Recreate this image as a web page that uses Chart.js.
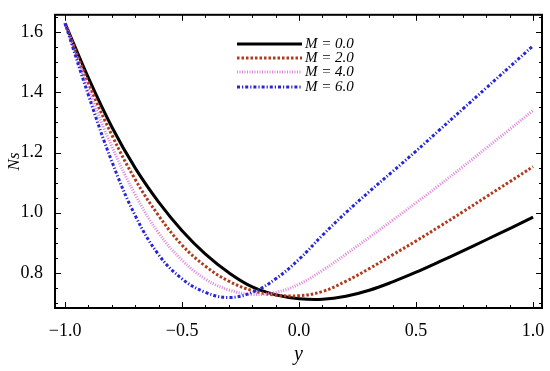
<!DOCTYPE html>
<html>
<head>
<meta charset="utf-8">
<script src="https://cdn.jsdelivr.net/npm/chart.js@4/dist/chart.umd.min.js"></script>
<style>
  html, body { margin: 0; padding: 0; background: #fff; }
  #wrap { width: 550px; height: 371px; }
</style>
</head>
<body>
<div id="wrap"><canvas id="nsChart" width="550" height="371"></canvas></div>
<script>
// data
const xValues = [-1.0, -0.9, -0.8, -0.7, -0.6, -0.5, -0.4, -0.3, -0.2, -0.1, 0.0,
                 0.1, 0.2, 0.3, 0.4, 0.5, 0.6, 0.7, 0.8, 0.9, 1.0];
const nsM0 = [1.63, 1.448, 1.285, 1.148, 1.035, 0.94, 0.862, 0.80, 0.753, 0.727, 0.714,
              0.712, 0.722, 0.742, 0.77, 0.802, 0.837, 0.873, 0.91, 0.947, 0.985];
const nsM2 = [1.63, 1.43, 1.258, 1.11, 0.99, 0.892, 0.822, 0.772, 0.741, 0.726, 0.724,
              0.738, 0.772, 0.814, 0.86, 0.906, 0.954, 1.003, 1.053, 1.103, 1.153];
const nsM4 = [1.63, 1.41, 1.22, 1.06, 0.932, 0.842, 0.779, 0.743, 0.728, 0.735, 0.762,
              0.808, 0.862, 0.918, 0.975, 1.033, 1.092, 1.153, 1.215, 1.277, 1.34];
const nsM6 = [1.63, 1.39, 1.17, 0.99, 0.86, 0.78, 0.735, 0.718, 0.735, 0.78, 0.845,
              0.925, 1.0, 1.07, 1.137, 1.205, 1.275, 1.345, 1.415, 1.485, 1.555];
const seriesLabels = ['M = 0.0', 'M = 2.0', 'M = 4.0', 'M = 6.0'];

const xTicks = [-1.0, -0.5, 0.0, 0.5, 1.0];
const yTicks = [0.8, 1.0, 1.2, 1.4, 1.6];
const xMinor = [-0.9, -0.8, -0.7, -0.6, -0.4, -0.3, -0.2, -0.1, 0.1, 0.2, 0.3, 0.4, 0.6, 0.7, 0.8, 0.9];
const yMinor = [0.7, 0.75, 0.85, 0.9, 0.95, 1.05, 1.1, 1.15, 1.25, 1.3, 1.35, 1.45, 1.5, 1.55, 1.65];

const serif = '"Liberation Serif", "DejaVu Serif", serif';

function pts(ys) {
    return xValues.map((x, i) => ({ x: x, y: ys[i] }));
}

function fmt(v) {
    return v.toFixed(1).replace('-', '\u2212');
}

// frame, inward ticks and the legend box inside the plot
const framePlugin = {
    id: 'frame',
    afterDatasetsDraw(chart) {
        const ctx = chart.ctx;
        const a = chart.chartArea;
        const sx = chart.scales.x, sy = chart.scales.y;
        ctx.save();
        ctx.strokeStyle = '#000';
        ctx.lineWidth = 2;
        ctx.strokeRect(a.left, a.top, a.right - a.left, a.bottom - a.top);

        ctx.lineWidth = 1;
        ctx.beginPath();
        const tick = (vals, len) => {
            vals.forEach(v => {
                const px = Math.round(sx.getPixelForValue(v)) + 0.5;
                ctx.moveTo(px, a.bottom); ctx.lineTo(px, a.bottom - len);
                ctx.moveTo(px, a.top); ctx.lineTo(px, a.top + len);
            });
        };
        const tickY = (vals, len) => {
            vals.forEach(v => {
                const py = Math.round(sy.getPixelForValue(v)) + 0.5;
                if (py < a.top || py > a.bottom) return;
                ctx.moveTo(a.left, py); ctx.lineTo(a.left + len, py);
                ctx.moveTo(a.right, py); ctx.lineTo(a.right - len, py);
            });
        };
        tick(xTicks, 6); tick(xMinor, 3);
        tickY(yTicks, 6); tickY(yMinor, 3);
        ctx.stroke();

        // legend
        const x0 = 237, x1 = 302;
        const rows = [44, 58, 72, 87];
        chart.data.datasets.forEach((ds, i) => {
            const y = rows[i];
            ctx.beginPath();
            ctx.strokeStyle = ds.borderColor;
            ctx.lineWidth = ds.borderWidth;
            ctx.setLineDash(ds.borderDash || []);
            ctx.moveTo(x0, y); ctx.lineTo(x1, y);
            ctx.stroke();
            ctx.setLineDash([]);
            ctx.fillStyle = '#000';
            ctx.font = 'italic 15px ' + serif;
            ctx.textBaseline = 'middle';
            ctx.fillText(ds.label, x1 + 3, y);
        });
        ctx.restore();
    }
};

new Chart(document.getElementById('nsChart'), {
    type: 'line',
    data: {
        datasets: [
            {
                label: seriesLabels[0],
                data: pts(nsM0),
                borderColor: '#000000',
                borderWidth: 3,
                order: 4
            },
            {
                label: seriesLabels[1],
                data: pts(nsM2),
                borderColor: '#b13a1c',
                borderWidth: 3,
                borderDash: [2.5, 2],
                order: 3
            },
            {
                label: seriesLabels[2],
                data: pts(nsM4),
                borderColor: '#dd82dd',
                borderWidth: 3,
                borderDash: [1, 1.5],
                order: 2
            },
            {
                label: seriesLabels[3],
                data: pts(nsM6),
                borderColor: '#2626d8',
                borderWidth: 3,
                borderDash: [3, 2, 1.2, 2],
                order: 1
            }
        ]
    },
    options: {
        responsive: false,
        animation: false,
        layout: { padding: { left: 0, right: 8, top: 7, bottom: 0 } },
        elements: {
            point: { radius: 0 },
            line: { tension: 0.4, fill: false }
        },
        plugins: {
            legend: { display: false },
            tooltip: { enabled: false }
        },
        scales: {
            x: {
                type: 'linear',
                min: -1.043,
                max: 1.038,
                afterBuildTicks: s => { s.ticks = xTicks.map(v => ({ value: v })); },
                afterFit: s => { s.height = 63; },
                grid: { display: false },
                border: { display: false },
                ticks: {
                    callback: v => fmt(v),
                    color: '#000',
                    font: { family: serif, size: 18 },
                    padding: 4,
                    maxRotation: 0
                },
                title: {
                    display: true,
                    text: 'y',
                    color: '#000',
                    font: { family: serif, size: 20, style: 'italic' },
                    padding: { top: 6 }
                }
            },
            y: {
                type: 'linear',
                min: 0.683,
                max: 1.658,
                afterBuildTicks: s => { s.ticks = yTicks.map(v => ({ value: v })); },
                afterFit: s => { s.width = 55; },
                grid: { display: false },
                border: { display: false },
                ticks: {
                    callback: v => fmt(v),
                    color: '#000',
                    font: { family: serif, size: 18 },
                    padding: 4
                },
                title: {
                    display: true,
                    text: 'Ns',
                    color: '#000',
                    font: { family: serif, size: 17, style: 'italic' },
                    padding: { bottom: 0 }
                }
            }
        }
    },
    plugins: [framePlugin]
});
</script>
</body>
</html>
